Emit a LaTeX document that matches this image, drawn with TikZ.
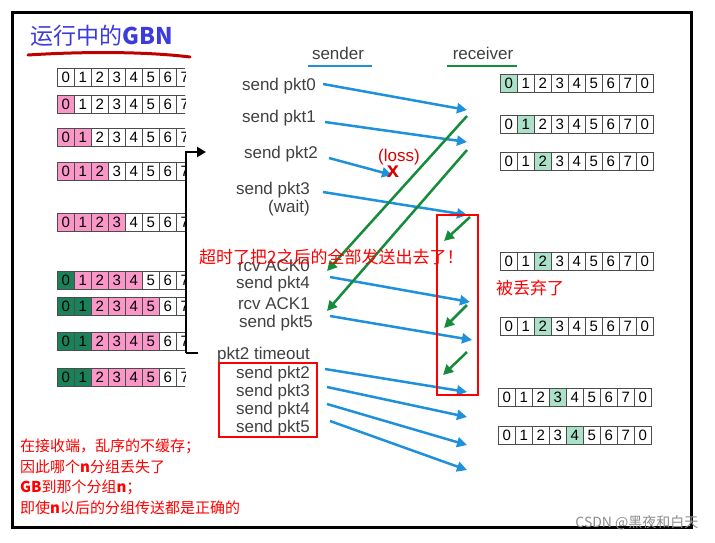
\documentclass[tikz,border=0pt]{standalone}
\usepackage{fontspec}
\setmainfont{Liberation Sans}
\newfontfamily\cjk{Noto Sans CJK SC}
\usetikzlibrary{arrows.meta, positioning}
\definecolor{sndblue}{RGB}{30,144,220}
\definecolor{ackgreen}{RGB}{20,140,60}
\definecolor{pinkcell}{RGB}{250,150,200}
\definecolor{darkcell}{RGB}{25,130,90}
\definecolor{lightcell}{RGB}{170,225,200}
\definecolor{titleblue}{RGB}{60,60,220}
\begin{document}
\begin{tikzpicture}[x=1pt, y=-1pt,
    cell/.style={draw=black!70, minimum width=17pt, minimum height=18pt, inner sep=0pt, font=\fontsize{15}{15}\selectfont, anchor=west},
    lbl/.style={font=\fontsize{17}{17}\selectfont, text=black!75, inner sep=0pt, anchor=east},
    snd/.style={sndblue, line width=2.5pt, -{Triangle[length=10pt,width=10pt]}},
    ack/.style={ackgreen, line width=2.5pt, -{Triangle[length=10pt,width=10pt]}},
    note/.style={font=\cjk\fontsize{17}{17}\selectfont, text=red, inner sep=0pt},
    redbox/.style={draw=red, line width=2pt},
]
    \useasboundingbox (0,0) rectangle (715,542);
    \draw[line width=3pt] (12,12) rectangle (691,527);

    % title
    \node[font=\cjk\fontsize{23}{23}\selectfont, text=titleblue, anchor=west, inner sep=0pt] (title) at (30,36) {运行中的\textbf{GBN}};
    \draw[red!75!black, line width=3pt, line cap=round] (28,55) .. controls (90,51) and (150,52) .. (190,57);

    % sender windows
    \begin{scope}
    \clip (50,60) rectangle (185,390);
    \foreach \y/\cols [count=\r] in {
        77/{w,w,w,w,w,w,w,w},
        104/{p,w,w,w,w,w,w,w},
        137/{p,p,w,w,w,w,w,w},
        171/{p,p,p,w,w,w,w,w},
        222/{p,p,p,p,w,w,w,w},
        280/{d,p,p,p,p,w,w,w},
        306/{d,d,p,p,p,p,w,w},
        341/{d,d,p,p,p,p,w,w},
        377/{d,d,p,p,p,p,w,w}}
      \foreach \c [count=\i from 0] in \cols {
        \if\c p\def\fc{pinkcell}\else\if\c d\def\fc{darkcell}\else\def\fc{white}\fi\fi
        \node[cell, fill=\fc] (s\r-\i) at ({57+17*\i},\y) {\i};
      }
    \end{scope}

    % bracket
    \coordinate (brtop) at (186,152);
    \coordinate (brbot) at (186,353);
    \draw[line width=2.5pt, -{Triangle[length=9pt,width=10pt]}] (brbot) -- ++(12,0) (brbot) -- (brtop) -- ++(20,0);

    % headers
    \node[font=\fontsize{17}{17}\selectfont, text=black!75] (sender) at (338,53) {sender};
    \draw[sndblue, line width=2.5pt] (308,66) -- (372,66);
    \node[font=\fontsize{17}{17}\selectfont, text=black!75] (receiver) at (483,53) {receiver};
    \draw[ackgreen, line width=2.5pt] (447,66) -- (517,66);

    % sender events
    \node[lbl] (e0) at (316,86) {send pkt0};
    \node[lbl] (e1) at (316,118) {send pkt1};
    \node[lbl] (e2) at (318,154) {send pkt2};
    \node[lbl] (e3) at (310,190) {send pkt3};
    \node[lbl] (w3) at (310,208) {(wait)};
    \node[lbl] (a0) at (310,266) {rcv ACK0};
    \node[lbl] (e4) at (310,284) {send pkt4};
    \node[lbl] (a1) at (310,304) {rcv ACK1};
    \node[lbl] (e5) at (313,323) {send pkt5};
    \node[lbl] (to) at (310,355) {pkt2 timeout};
    \node[lbl] (r2) at (310,374) {send pkt2};
    \node[lbl] (r3) at (310,392) {send pkt3};
    \node[lbl] (r4) at (310,410) {send pkt4};
    \node[lbl] (r5) at (310,428) {send pkt5};

    % data packets
    \draw[snd] (323,84) -- (467,110);
    \draw[snd] (325,122) -- (467,142);
    \draw[snd] (329,158) -- (392,175);
    \node[text=red!85!black, font=\fontsize{22}{22}\selectfont\bfseries] (lossx) at (393,172) {x};
    \node[text=red!85!black, font=\fontsize{17}{17}\selectfont] (loss) at (399,157) {(loss)};
    \draw[snd] (323,192) -- (467,215);
    \draw[snd] (330,277) -- (470,302);
    \draw[snd] (330,316) -- (472,340);
    \draw[snd] (325,369) -- (467,392);
    \draw[snd] (327,387) -- (467,417);
    \draw[snd] (327,404) -- (467,445);
    \draw[snd] (330,421) -- (467,470);

    % acks
    \draw[ack] (467,116) -- (327,271);
    \draw[ack] (467,150) -- (327,311);
    \draw[ack] (470,217) -- (444,241);
    \draw[ack] (467,305) -- (444,328);
    \draw[ack] (467,352) -- (443,375);

    % receiver windows
    \foreach \x/\y/\k [count=\r] in {500/83/0, 500/124/1, 500/161/2, 500/261/2, 500/326/2, 498/397/3, 498/435/4}
      \foreach \i in {0,...,8} {
        \pgfmathtruncatemacro\n{mod(\i,8)}
        \ifnum\i=\k\def\fc{lightcell}\else\def\fc{white}\fi
        \node[cell, fill=\fc] (q\r-\i) at ({\x+17*\i},\y) {\n};
      }

    % notes
    \draw[redbox] (437,215) rectangle (478,395);
    \draw[redbox] (219,363) rectangle (317,437);
    \node[note, anchor=west] (late) at (199,257) {超时了把2之后的全部发送出去了！};
    \node[note, anchor=west] (drop) at (496,288) {被丢弃了};
    \node[note, anchor=west, align=left, font=\cjk\fontsize{15}{20.5}\selectfont] (rule) at (20,477)
      {在接收端，乱序的不缓存；\\因此哪个\textbf{n}分组丢失了\\\textbf{GB}到那个分组\textbf{n}；\\即使\textbf{n}以后的分组传送都是正确的};
    \node[font=\cjk\fontsize{14}{14}\selectfont, text=black!45, anchor=east] (mark) at (702,523) {CSDN @黑夜和白天};
\end{tikzpicture}
\end{document}
